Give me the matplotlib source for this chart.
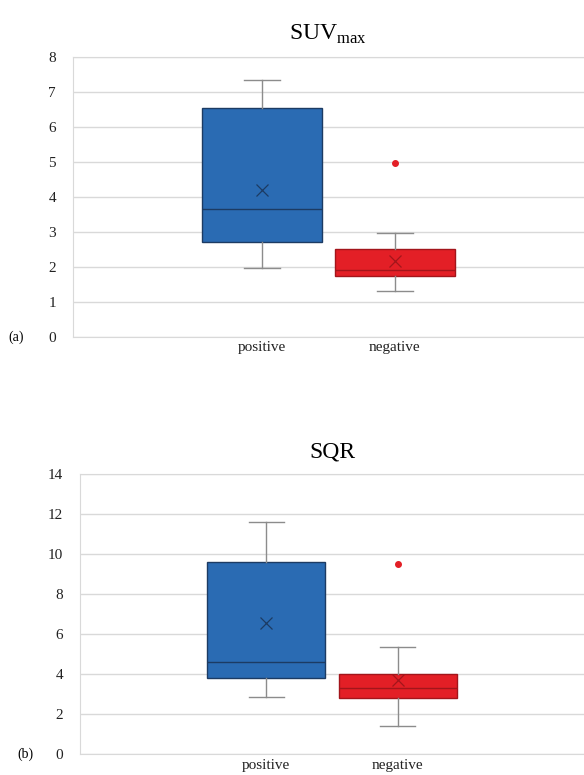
import matplotlib
matplotlib.use('Agg')
import matplotlib.pyplot as plt

plt.rcParams['font.family'] = ['Liberation Serif', 'DejaVu Serif']
plt.rcParams['mathtext.fontset'] = 'custom'
plt.rcParams['mathtext.rm'] = 'Liberation Serif'

categories = ['positive', 'negative']

# panel (a) SUVmax: whislo, q1, med, q3, whishi, mean, outliers
suv_pos = [1.96, 2.70, 3.65, 6.55, 7.33, 4.20, []]
suv_neg = [1.30, 1.75, 1.91, 2.51, 2.96, 2.17, [4.96]]

# panel (b) SQR
sqr_pos = [2.85, 3.80, 4.60, 9.60, 11.63, 6.56, []]
sqr_neg = [1.43, 2.80, 3.30, 4.00, 5.35, 3.70, [9.53]]

fills = ['#2A6BB3', '#E31F26']
edges = ['#1C3B63', '#A3151B']
whisker_col = '#8C8C8C'


def stats(v, label):
    return dict(whislo=v[0], q1=v[1], med=v[2], q3=v[3], whishi=v[4],
                mean=v[5], fliers=v[6], label=label)


def draw_panel(ax, pos, neg, ymax, step, title, tag):
    for i, (v, fc, ec) in enumerate(zip([pos, neg], fills, edges)):
        ax.bxp([stats(v, categories[i])], positions=[i + 1], widths=0.9,
               patch_artist=True, showmeans=True, showfliers=True,
               boxprops=dict(facecolor=fc, edgecolor=ec, linewidth=1.0),
               medianprops=dict(color=ec, linewidth=1.0),
               whiskerprops=dict(color=whisker_col, linewidth=1.0),
               capprops=dict(color=whisker_col, linewidth=1.0),
               capwidths=0.27,
               meanprops=dict(marker='x', markeredgecolor=ec, markersize=9,
                              markeredgewidth=0.9),
               flierprops=dict(marker='o', markerfacecolor='#E31F26',
                               markeredgecolor='#E31F26', markersize=4))
    ax.set_xlim(-0.42, 3.42)
    ax.set_ylim(0, ymax)
    ax.set_yticks(range(0, ymax + 1, step))
    ax.set_xticks([1, 2])
    ax.set_xticklabels(categories)
    ax.grid(axis='y', color='#D9D9D9', linewidth=1.0)
    ax.set_axisbelow(True)
    for s in ['left', 'top']:
        ax.spines[s].set_color('#D9D9D9')
    ax.spines['right'].set_visible(False)
    ax.spines['bottom'].set_color('#D9D9D9')
    ax.tick_params(length=0, labelsize=11, colors='#222222')
    ax.tick_params(axis='y', pad=12)
    ax.tick_params(axis='x', pad=3)
    ax.set_title(title, fontsize=17, pad=12)
    ax.text(-0.125, 0.0, tag, transform=ax.transAxes, fontsize=10,
            ha='left', va='center')


fig = plt.figure(figsize=(5.84, 7.75), dpi=100)
ax1 = fig.add_axes([0.1243, 0.5652, 0.8757, 0.3613])
ax2 = fig.add_axes([0.137, 0.0265, 0.863, 0.3613])

draw_panel(ax1, suv_pos, suv_neg, 8, 1, r'SUV$_{\mathrm{max}}$', '(a)')
draw_panel(ax2, sqr_pos, sqr_neg, 14, 2, 'SQR', '(b)')

fig.savefig('out.png', dpi=100)
